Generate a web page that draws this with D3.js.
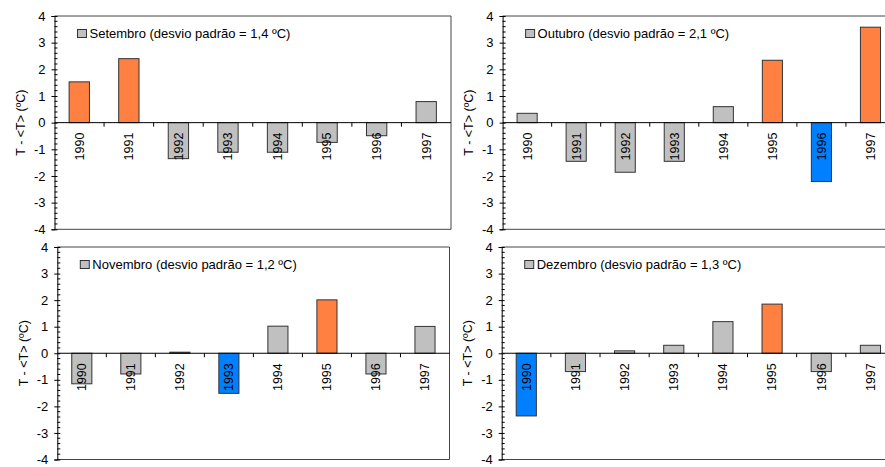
<!DOCTYPE html>
<html>
<head>
<meta charset="utf-8">
<script src="https://cdn.jsdelivr.net/npm/d3@7"></script>
<style>
  body { margin: 0; background: #fff; }
  svg { display: block; font-family: "Liberation Sans", Arial, sans-serif; }
</style>
</head>
<body>
<div id="plot"></div>
<script>
// Data
var years = ["1990", "1991", "1992", "1993", "1994", "1995", "1996", "1997"];
var months = ["Setembro", "Outubro", "Novembro", "Dezembro"];
var desvios = ["1,4", "2,1", "1,2", "1,3"];
var yTicks = [-4, -3, -2, -1, 0, 1, 2, 3, 4];

var setembro = [1.53, 2.40, -1.35, -1.11, -1.11, -0.74, -0.49, 0.79];
var outubro  = [0.35, -1.45, -1.86, -1.45, 0.60, 2.34, -2.21, 3.58];
var novembro = [-1.15, -0.78, 0.04, -1.51, 1.02, 2.01, -0.78, 1.01];
var dezembro = [-2.36, -0.69, 0.09, 0.30, 1.19, 1.85, -0.69, 0.30];

// q = quente (orange), f = frio (blue), n = normal (grey)
var setembroTipo = ["q", "q", "n", "n", "n", "n", "n", "n"];
var outubroTipo  = ["n", "n", "n", "n", "n", "q", "f", "q"];
var novembroTipo = ["n", "n", "n", "f", "n", "q", "n", "n"];
var dezembroTipo = ["f", "n", "n", "n", "n", "q", "n", "n"];

var series = [setembro, outubro, novembro, dezembro];
var tipos = [setembroTipo, outubroTipo, novembroTipo, dezembroTipo];

var color = d3.scaleOrdinal()
	.domain(["q", "f", "n"])
	.range(["#ff8040", "#0080ff", "#c0c0c0"]);

// Panel placement (plot area of each small chart)
var panels = [
	{x0: 54.5, x1: 451, y0: 16, y1: 229.3},
	{x0: 502.6, x1: 895, y0: 16, y1: 229.3},
	{x0: 57.3, x1: 449.5, y0: 247, y1: 459.5},
	{x0: 501.7, x1: 895, y0: 247, y1: 459.5}
];

var svg = d3.select("#plot")
	.append("svg")
	.attr("width", 885)
	.attr("height", 467);

panels.forEach(function(p, i){
	var values = series[i];
	var tipo = tipos[i];

	var x = d3.scaleBand()
		.domain(years)
		.range([p.x0, p.x1])
		.paddingInner(0.59)
		.paddingOuter(0.295);

	var y = d3.scaleLinear()
		.domain([-4, 4])
		.range([p.y1, p.y0]);

	var g = svg.append("g");

	// frame (top, right, bottom)
	g.append("path")
		.attr("d", "M" + p.x0 + "," + p.y0 + "H" + p.x1 + "V" + p.y1 + "H" + p.x0)
		.attr("fill", "none")
		.attr("stroke", "#444")
		.attr("stroke-width", 1);

	// bars
	g.append("g")
		.selectAll("rect")
		.data(values)
		.enter().append("rect")
		.attr("x", function(d, j){ return x(years[j]); })
		.attr("y", function(d){ return y(Math.max(0, d)); })
		.attr("width", x.bandwidth())
		.attr("height", function(d){ return Math.abs(y(d) - y(0)); })
		.attr("fill", function(d, j){ return color(tipo[j]); })
		.attr("stroke", "#333")
		.attr("stroke-width", 1);

	// zero line with category ticks
	g.append("line")
		.attr("x1", p.x0).attr("x2", p.x1)
		.attr("y1", y(0)).attr("y2", y(0))
		.attr("stroke", "#000");
	g.append("g")
		.selectAll("line")
		.data(years.slice(1))
		.enter().append("line")
		.attr("x1", function(d){ return x(d) - x.step() * x.paddingInner() / 2; })
		.attr("x2", function(d){ return x(d) - x.step() * x.paddingInner() / 2; })
		.attr("y1", y(0))
		.attr("y2", y(0) + 4)
		.attr("stroke", "#000");

	// year labels, rotated below the zero line
	g.append("g")
		.selectAll("text")
		.data(years)
		.enter().append("text")
		.attr("transform", function(d){
			return "translate(" + (x(d) + x.bandwidth() / 2) + "," + (y(0) + 10) + ") rotate(-90)";
		})
		.attr("dy", "0.35em")
		.attr("text-anchor", "end")
		.style("font-size", "12.5px")
		.text(function(d){ return d; });

	// Y axis
	var yAxis = d3.axisLeft(y)
		.tickValues(yTicks)
		.tickSize(3)
		.tickPadding(6)
		.tickFormat(d3.format("d"));
	var ax = g.append("g")
		.attr("transform", "translate(" + p.x0 + ",0)")
		.call(yAxis);
	ax.select(".domain").attr("stroke", "#000");
	ax.selectAll(".tick line").attr("x2", 3).attr("x1", -3);
	ax.selectAll(".tick text")
		.style("font-size", "13px")
		.style("font-family", "Liberation Sans, Arial, sans-serif")
		.text(function(d){ return d < 0 ? "-" + Math.abs(d) : d; });

	// minor ticks
	g.append("g")
		.selectAll("line")
		.data(d3.range(-40, 41, 2).filter(function(v){ return v % 10 !== 0; }))
		.enter().append("line")
		.attr("x1", p.x0).attr("x2", p.x0 + 3)
		.attr("y1", function(v){ return y(v / 10); })
		.attr("y2", function(v){ return y(v / 10); })
		.attr("stroke", "#000");

	// Y label
	g.append("text")
		.attr("transform", "translate(" + (p.x0 - 34) + "," + y(0) + ") rotate(-90)")
		.attr("dy", "0.35em")
		.style("text-anchor", "middle")
		.style("font-size", "12.5px")
		.text("T - <T>  (ºC)");

	// legend
	g.append("rect")
		.attr("x", p.x0 + 23)
		.attr("y", p.y0 + 13.5)
		.attr("width", 9)
		.attr("height", 8)
		.attr("fill", "#c0c0c0")
		.attr("stroke", "#333");
	g.append("text")
		.attr("x", p.x0 + 35)
		.attr("y", p.y0 + 21.5)
		.style("font-size", "13px")
		.text(months[i] + " (desvio padrão = " + desvios[i] + " ºC)");
});
</script>
</body>
</html>
